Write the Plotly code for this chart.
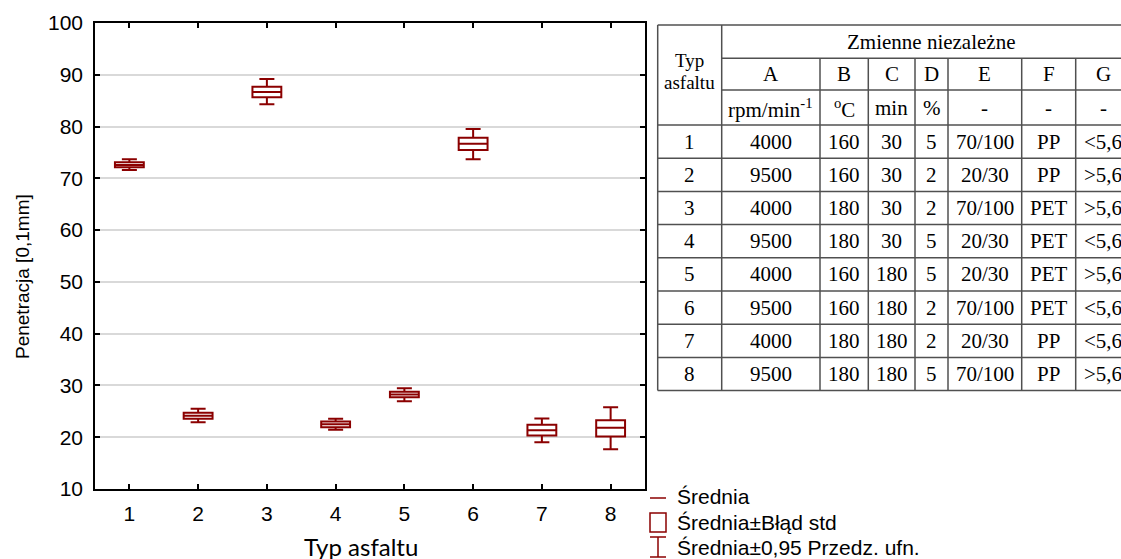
import plotly.graph_objects as go

# ---------------- data ----------------
typ = [1, 2, 3, 4, 5, 6, 7, 8]
mean = [72.57, 24.13, 86.68, 22.52, 28.26, 76.69, 21.36, 21.81]
se_low = [72.13, 23.55, 85.65, 21.94, 27.74, 75.47, 20.34, 20.15]
se_high = [73.10, 24.71, 87.70, 23.04, 28.76, 77.85, 22.39, 23.30]
ci_low = [71.60, 22.91, 84.30, 21.42, 26.97, 73.67, 19.04, 17.69]
ci_high = [73.67, 25.48, 89.19, 23.55, 29.48, 79.53, 23.62, 25.81]

y_ticks = [10, 20, 30, 40, 50, 60, 70, 80, 90, 100]

# table
tab_typ = ["1", "2", "3", "4", "5", "6", "7", "8"]
tab_A = ["4000", "9500", "4000", "9500", "4000", "9500", "4000", "9500"]
tab_B = ["160", "160", "180", "180", "160", "160", "180", "180"]
tab_C = ["30", "30", "30", "30", "180", "180", "180", "180"]
tab_D = ["5", "2", "2", "5", "5", "2", "2", "5"]
tab_E = ["70/100", "20/30", "70/100", "20/30", "20/30", "70/100", "20/30", "70/100"]
tab_F = ["PP", "PP", "PET", "PET", "PET", "PET", "PP", "PP"]
tab_G = ["&lt;5,6", "&gt;5,6", "&gt;5,6", "&lt;5,6", "&gt;5,6", "&lt;5,6", "&lt;5,6", "&gt;5,6"]
col_names = ["A", "B", "C", "D", "E", "F", "G"]
col_units = ["rpm/min<sup>-1</sup>", "<sup>o</sup>C", "min", "%", "-", "-", "-"]

legend_labels = ["Średnia", "Średnia±Błąd std", "Średnia±0,95 Przedz. ufn."]

# ---------------- layout helpers ----------------
W, H = 1121, 559
L, R, T, B = 95, 645, 23, 489
RED = "#8b0000"
SANS = "Liberation Sans, Arial, sans-serif"
SERIF = "Liberation Serif, Times New Roman, serif"


def px(x):
    return (x - L) / (R - L)


def py(y):
    return (B - y) / (B - T)


fig = go.Figure()
fig.add_trace(go.Box(
    x=typ, q1=se_low, median=mean, q3=se_high,
    lowerfence=ci_low, upperfence=ci_high,
    width=0.42, whiskerwidth=0.52,
    line=dict(color=RED, width=2), fillcolor="rgba(255,255,255,0)",
    showlegend=False, hoverinfo="skip",
))

shapes = []
ann = []

# ---- legend (drawn manually) ----
LC = dict(color=RED, width=1.5)
shapes.append(dict(type="line", xref="paper", yref="paper",
                   x0=px(650), x1=px(666), y0=py(498), y1=py(498), line=LC))
shapes.append(dict(type="rect", xref="paper", yref="paper",
                   x0=px(650), x1=px(666), y0=py(513), y1=py(532), line=LC))
shapes.append(dict(type="line", xref="paper", yref="paper",
                   x0=px(650), x1=px(666), y0=py(537), y1=py(537), line=LC))
shapes.append(dict(type="line", xref="paper", yref="paper",
                   x0=px(658), x1=px(658), y0=py(537), y1=py(557), line=LC))
shapes.append(dict(type="line", xref="paper", yref="paper",
                   x0=px(650), x1=px(666), y0=py(557), y1=py(557), line=LC))
for lab, yc in zip(legend_labels, [497, 522, 547]):
    ann.append(dict(text=lab, xref="paper", yref="paper", x=px(675), y=py(yc),
                    xanchor="left", yanchor="middle", showarrow=False,
                    font=dict(family=SANS, size=21, color="black")))

# ---- axis titles ----
ann.append(dict(text="Penetracja [0,1mm]", xref="paper", yref="paper",
                x=px(22), y=py(277), textangle=-90, xanchor="center", yanchor="middle",
                showarrow=False, font=dict(family=SANS, size=19, color="black")))
ann.append(dict(text="Typ asfaltu", xref="paper", yref="paper",
                x=px(361), y=py(546), xanchor="center", yanchor="middle",
                showarrow=False, font=dict(family="Lato, Carlito, sans-serif", size=24, color="black")))

# ---- table ----
TC = dict(color="#505050", width=1.5)
tx0, tx1 = 657.7, 1140
ty0 = 25
col_x = [721.7, 820, 868.3, 915, 948, 1021.7, 1075.7, 1130]
row_top = 125
row_h = 33.2
ty1 = row_top + 8 * row_h


def hline(y, xa, xb):
    shapes.append(dict(type="line", xref="paper", yref="paper",
                       x0=px(xa), x1=px(xb), y0=py(y), y1=py(y), line=TC))


def vline(x, ya, yb):
    shapes.append(dict(type="line", xref="paper", yref="paper",
                       x0=px(x), x1=px(x), y0=py(ya), y1=py(yb), line=TC))


hline(ty0, tx0, tx1)
hline(58.3, col_x[0], tx1)
hline(90, col_x[0], tx1)
for k in range(9):
    hline(row_top + k * row_h, tx0, tx1)
vline(tx0, ty0, ty1)
vline(col_x[0], ty0, ty1)
for x in col_x[1:7]:
    vline(x, 58.3, ty1)


def cell(text, x, y, size=21):
    ann.append(dict(text=text, xref="paper", yref="paper", x=px(x), y=py(y),
                    xanchor="center", yanchor="middle", showarrow=False,
                    font=dict(family=SERIF, size=size, color="black")))


cell("Typ", 689.7, 61, 19)
cell("asfaltu", 689.7, 82, 19)
cell("Zmienne niezależne", 931, 42)
centers = [(col_x[i] + col_x[i + 1]) / 2 for i in range(7)]
centers[6] = 1103
for c, n, u in zip(centers, col_names, col_units):
    cell(n, c, 74)
    cell(u, c, 108)
cols = [tab_A, tab_B, tab_C, tab_D, tab_E, tab_F, tab_G]
for r in range(8):
    yc = row_top + (r + 0.5) * row_h
    cell(tab_typ[r], 689.7, yc)
    for c, col in zip(centers, cols):
        cell(col[r], c, yc)

axis_common = dict(
    showline=True, linecolor="black", linewidth=1.5, mirror="ticks",
    ticks="inside", ticklen=5, tickwidth=1.5, tickcolor="black",
    tickfont=dict(family=SANS, size=21, color="black"), zeroline=False,
)

fig.update_layout(
    width=W, height=H,
    margin=dict(l=L, r=W - R, t=T, b=H - B, pad=0),
    paper_bgcolor="white", plot_bgcolor="white",
    xaxis=dict(range=[0.5, 8.5], tickvals=typ, showgrid=False,
               ticklabelstandoff=5, **axis_common),
    yaxis=dict(range=[10, 100], tickvals=y_ticks, showgrid=True,
               gridcolor="#d9d9d9", gridwidth=1.5, ticklabelstandoff=6,
               **axis_common),
    shapes=shapes, annotations=ann, showlegend=False,
)

fig.write_html("out.html")
